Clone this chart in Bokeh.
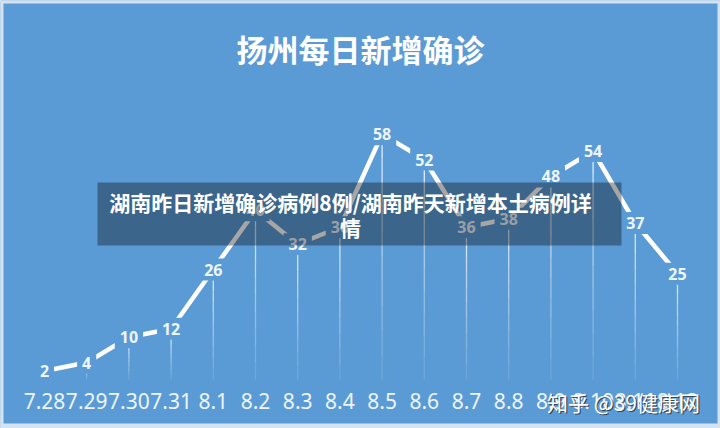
from bokeh.plotting import figure
from bokeh.models import Range1d
from bokeh.core.properties import value
from bokeh.embed import file_html
from bokeh.resources import INLINE

# ---- data ----
dates = ["7.28", "7.29", "7.30", "7.31", "8.1", "8.2", "8.3", "8.4",
         "8.5", "8.6", "8.7", "8.8", "8.9", "8.10", "8.11", "8.12"]
cases = [2, 4, 10, 12, 26, 40, 32, 36, 58, 52, 36, 38, 48, 54, 37, 25]
title_text = "扬州每日新增确诊"
banner_line1 = "湖南昨日新增确诊病例8例/湖南昨天新增本土病例详"
banner_line2 = "情"
watermark = "知乎 @39健康网"

BG = "#5b9bd5"
EDGE = "#d3e3f2"
W, H = 720, 428
n = len(dates)

# layout: first category at page x 44, spacing 42.2 px; value 0 at page y 379
X0_PX, X_STEP = 44.0, 42.2
Y0_PX, Y_STEP = 379.0, 4.23

p = figure(width=W, height=H, output_backend="svg", toolbar_location=None,
           x_range=Range1d(-X0_PX / X_STEP, (W - X0_PX) / X_STEP),
           y_range=Range1d(-(H - Y0_PX) / Y_STEP, Y0_PX / Y_STEP),
           min_border=0)
p.background_fill_color = BG
p.border_fill_color = BG
p.outline_line_color = None
p.grid.visible = False
p.axis.visible = False

def dx(px):
    return (px - X0_PX) / X_STEP
def dy(py):
    return (Y0_PX - py) / Y_STEP

xs = list(range(n))

# drop lines with fading alpha
steps = 10
for k in range(steps):
    y0s = [v * k / steps for v in cases]
    y1s = [v * (k + 1) / steps for v in cases]
    p.segment(x0=xs, y0=y0s, x1=xs, y1=y1s, line_color="white",
              line_width=1.3, line_alpha=0.04 + 0.76 * (k + 1) / steps)

# connecting line
p.line(xs, cases, line_color="white", line_width=4.5)

# value labels with background mask (creates the gaps in the line)
p.text(xs, cases, text=[str(v) for v in cases], text_align="center",
       text_baseline="middle", text_font=value("Noto Sans"),
       text_font_style="bold", text_font_size="16px", text_color="#eef5fc",
       background_fill_color=BG, padding=5)

# category labels
p.text(xs, [dy(400)] * n, text=dates, text_align="center",
       text_baseline="middle", text_font=value("Noto Sans"),
       text_font_size="21px", text_color="#eef4fb")

# title
p.text([dx(360)], [dy(48)], text=[title_text], text_align="center",
       text_baseline="middle", text_font=value("Noto Sans CJK SC"),
       text_font_style="bold", text_font_size="31px", text_color="white")

# banner overlay
p.quad(left=[dx(97)], right=[dx(621)], top=[dy(182)], bottom=[dy(245)],
       fill_color="black", fill_alpha=0.35, line_color=None)
p.text([dx(350)], [dy(201)], text=[banner_line1], text_align="center",
       text_baseline="middle", text_font=value("Noto Sans CJK SC"),
       text_font_style="bold", text_font_size="21px", text_color="white")
p.text([dx(350)], [dy(226)], text=[banner_line2], text_align="center",
       text_baseline="middle", text_font=value("Noto Sans CJK SC"),
       text_font_style="bold", text_font_size="21px", text_color="white")

# watermark
p.text([dx(623) + 1.3 / X_STEP], [dy(401) - 1.3 / Y_STEP], text=[watermark],
       text_align="center", text_baseline="middle",
       text_font=value("Noto Sans CJK SC"), text_font_size="21px",
       text_color="#2a2a2a", text_alpha=0.75)
p.text([dx(623)], [dy(401)], text=[watermark], text_align="center",
       text_baseline="middle", text_font=value("Noto Sans CJK SC"),
       text_font_size="21px", text_color="white")

# light frame edge
p.quad(left=[dx(0)], right=[dx(W)], top=[dy(0)], bottom=[dy(H)],
       fill_color=None, line_color=EDGE, line_width=6)
p.quad(left=[dx(0)], right=[dx(W)], top=[dy(423)], bottom=[dy(H)],
       fill_color=EDGE, line_color=None)

open("out.html", "w").write(file_html(p, INLINE))
